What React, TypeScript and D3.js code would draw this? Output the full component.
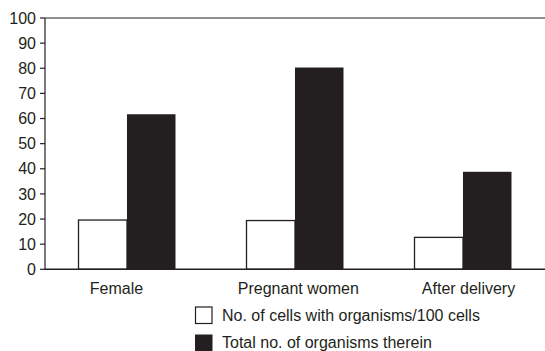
import React from "react";
import * as d3 from "d3";

const categories = ["Female", "Pregnant women", "After delivery"];
const cellsWithOrganisms = [19.6, 19.4, 12.7];
const totalOrganisms = [61.7, 80.3, 38.8];
const yTicks = [0, 10, 20, 30, 40, 50, 60, 70, 80, 90, 100];
const seriesNames = ["No. of cells with organisms/100 cells", "Total no. of organisms therein"];

export default function App() {
  const W = 545, H = 351;
  const x0 = 45, x1 = 547;
  const y = d3.scaleLinear().domain([0, 100]).range([269.3, 18]);
  const x = d3.scaleBand().domain(categories).range([x0 - 2, x0 - 2 + 168 * 3]).paddingInner(0).paddingOuter(0);
  const barW = 48.5;
  const labelShift = [-10.5, 3.3, 5.5];
  const ink = "#231f20";
  const font = "'Liberation Sans', Arial, sans-serif";
  return (
    <svg width={W} height={H} style={{ position: "absolute", left: 0, top: 0 }} fontFamily={font}>
      <rect x={0} y={0} width={W} height={H} fill="#fff" />
      {categories.map((c, i) => {
        const cx = x(c)! + x.bandwidth() / 2;
        return (
          <g key={c}>
            <rect x={cx - barW} y={y(cellsWithOrganisms[i])} width={barW} height={y(0) - y(cellsWithOrganisms[i])} fill="#fff" stroke={ink} strokeWidth={1.3} />
            <rect x={cx} y={y(totalOrganisms[i])} width={barW} height={y(0) - y(totalOrganisms[i])} fill={ink} />
            <text x={cx + labelShift[i]} y={293.5} textAnchor="middle" fontSize={16} fill={ink}>{c}</text>
          </g>
        );
      })}
      <line x1={x0} x2={x0} y1={y(100)} y2={y(0)} stroke={ink} strokeWidth={1.2} />
      <line x1={x0} x2={x1} y1={y(100)} y2={y(100)} stroke={ink} strokeWidth={1.2} />
      <line x1={x0} x2={x1} y1={y(0)} y2={y(0)} stroke={ink} strokeWidth={1.5} />
      {yTicks.map((t) => (
        <g key={t}>
          <line x1={x0 - 5} x2={x0} y1={y(t)} y2={y(t)} stroke={ink} strokeWidth={1.2} />
          <text x={x0 - 9} y={y(t) + 5.7} textAnchor="end" fontSize={16} fill={ink}>{t}</text>
        </g>
      ))}
      <rect x={195.5} y={307} width={16.5} height={16.5} fill="#fff" stroke={ink} strokeWidth={1.2} />
      <text x={222} y={321} fontSize={16} fill={ink}>{seriesNames[0]}</text>
      <rect x={195} y={334.5} width={17.5} height={17.5} fill={ink} />
      <text x={222} y={348} fontSize={16} fill={ink}>{seriesNames[1]}</text>
    </svg>
  );
}
